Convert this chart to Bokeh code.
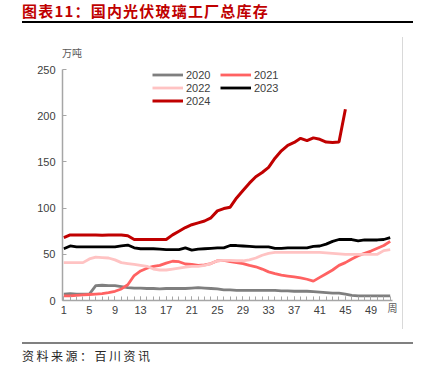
from bokeh.plotting import figure
from bokeh.layouts import column, row
from bokeh.models import Range1d, FixedTicker, Legend, LegendItem, Div, LinearAxis
from bokeh.embed import file_html
from bokeh.resources import INLINE

weeks = list(range(1, 53))
x_tick_vals = [1, 5, 9, 13, 17, 21, 25, 29, 33, 37, 41, 45, 49]
y_tick_vals = [0, 50, 100, 150, 200, 250]

s2020 = [7, 7.5, 7, 7, 7, 16, 16.5, 16, 16, 15, 14, 13.5, 13.5, 13, 13, 12.5, 13, 13, 13, 13,
         13.5, 14, 13.5, 13, 12.5, 11.5, 11.5, 11, 11, 11, 11, 11, 11, 11, 10.5, 10.5, 10, 10, 10, 9.5,
         9, 8.5, 8, 8, 7, 5.5, 5, 5, 5, 5, 5, 5]
s2021 = [5, 5, 5.5, 6, 6.5, 7, 7.5, 8.5, 10, 12.5, 17, 27, 32, 35, 37, 38, 40.5, 42.5, 42, 39.5,
         39, 38, 38.5, 40, 43, 43.5, 42, 41, 40, 38, 36.5, 34, 31, 29, 27.5, 26.5, 25.5, 24.5, 23, 21,
         25, 29, 33, 38, 41, 45, 48.5, 51, 53.5, 56.5, 59.5, 64]
s2022 = [41, 41, 41, 41, 45, 47, 46.5, 46, 44, 41, 40, 39, 38, 37, 34, 33, 33, 34, 35, 36,
         37, 37, 38, 40, 43, 43.5, 43.5, 43, 43, 44, 46, 49, 51, 52, 52, 52, 52, 52, 52, 52,
         52, 51.5, 51, 50.5, 50, 50, 50, 50, 50, 50, 54, 55]
s2023 = [56, 59, 58, 58, 58, 58, 58, 58, 58, 59, 60, 57, 56, 56, 56, 55.5, 55, 55, 55, 57,
         54.5, 55.5, 56, 56.5, 57, 57, 59.5, 59.5, 59, 58.5, 58, 58, 58, 56.5, 56.5, 57, 57, 57, 57, 58.5,
         59, 61, 64, 66, 66, 66, 64.5, 65.5, 65.5, 65.5, 66, 68]
s2024 = [68, 71, 71, 71, 71, 71, 70.5, 71, 71, 71, 70, 66, 66, 66, 66, 66, 66, 71, 75, 79,
         82, 84, 86, 89.5, 97, 99.5, 101, 111, 119, 127, 134, 138.5, 144, 154, 162, 168, 171, 175.5, 173, 176,
         174.5, 171.5, 171, 171.5, 207]

title_text = "图表11：国内光伏玻璃工厂总库存"
unit_text = "万吨"
week_text = "周"
source_text = "资料来源：百川资讯"

p = figure(width=402, height=280, output_backend="svg", toolbar_location=None,
           x_range=Range1d(0.8, 52.36), y_range=Range1d(0, 250),
           min_border_left=62, min_border_right=10, min_border_top=9, min_border_bottom=40)
p.outline_line_color = None
p.xgrid.grid_line_color = None
p.ygrid.grid_line_color = None

axis_col = "#a6a6a6"
for ax in (p.xaxis[0], p.yaxis[0]):
    ax.axis_line_color = axis_col
    ax.axis_line_width = 1.5
    ax.major_tick_line_color = axis_col
    ax.minor_tick_line_color = axis_col
    ax.major_label_text_font = "Liberation Sans"
    ax.major_label_text_font_size = "11px"
    ax.major_label_text_color = "#404040"
    ax.major_tick_out = 0
    ax.major_tick_in = 4

p.xaxis.ticker = FixedTicker(ticks=x_tick_vals, minor_ticks=weeks)
p.xaxis.minor_tick_in = 4
p.xaxis.minor_tick_out = 0
p.xaxis.major_label_standoff = 5
p.yaxis.ticker = FixedTicker(ticks=y_tick_vals)
p.yaxis.minor_tick_line_color = None
p.yaxis.major_label_standoff = 7

xa = p.xaxis[0]
xa.axis_label = week_text
xa.axis_label_text_font = "Noto Sans CJK SC"
xa.axis_label_text_font_size = "10px"
xa.axis_label_text_font_style = "normal"
xa.axis_label_text_color = "#595959"
xa.axis_label_standoff = -17
if "axis_label_align" in LinearAxis.properties():
    xa.axis_label_align = "end"

r20 = p.line(weeks, s2020, line_color="#7f7f7f", line_width=2.8)
r21 = p.line(weeks, s2021, line_color="#ff6262", line_width=2.8)
r22 = p.line(weeks, s2022, line_color="#ffc3c3", line_width=2.8)
r23 = p.line(weeks, s2023, line_color="#000000", line_width=2.8)
r24 = p.line(weeks[:len(s2024)], s2024, line_color="#c00000", line_width=3)

def mk_legend(items, loc):
    return Legend(items=items, location=loc, orientation="vertical",
                  glyph_width=31, glyph_height=13, label_height=13, label_standoff=3,
                  spacing=0, padding=0, margin=0,
                  border_line_alpha=0, background_fill_alpha=0,
                  label_text_font="Liberation Sans", label_text_font_size="11px",
                  label_text_color="#404040")

lg1 = mk_legend([LegendItem(label="2020", renderers=[r20]),
                 LegendItem(label="2022", renderers=[r22]),
                 LegendItem(label="2024", renderers=[r24])], (90, 193))
lg2 = mk_legend([LegendItem(label="2021", renderers=[r21]),
                 LegendItem(label="2023", renderers=[r23])], (158, 206))
p.add_layout(lg1)
p.add_layout(lg2)

top_html = (
    '<div style="position:relative;width:425px;height:60px;margin:0;padding:0;">'
    '<div style="position:absolute;left:22px;top:2px;white-space:nowrap;'
    "font-family:'Noto Sans CJK SC';font-weight:bold;font-size:15px;line-height:18px;"
    'letter-spacing:1.2px;color:#c00000;">' + title_text + '</div>'
    '<div style="position:absolute;left:22px;top:21px;width:391px;height:1.5px;background:#000;"></div>'
    '<div style="position:absolute;left:402px;top:37px;width:1px;height:23px;background:#d9d9d9;"></div>'
    '<div style="position:absolute;left:62px;top:47px;white-space:nowrap;'
    "font-family:'Noto Sans CJK SC';font-size:10px;line-height:12px;color:#595959;\">" + unit_text + '</div>'
    '</div>'
)
div_top = Div(text=top_html, width=425, height=60, margin=0)

side_html = ('<div style="position:relative;width:23px;height:280px;margin:0;padding:0;">'
             '<div style="position:absolute;left:0px;top:0px;width:1px;height:269px;background:#d9d9d9;"></div>'
             '</div>')
div_side = Div(text=side_html, width=23, height=280, margin=0)

bot_html = (
    '<div style="position:relative;width:425px;height:40px;margin:0;padding:0;">'
    '<div style="position:absolute;left:22px;top:2px;width:391px;height:2px;background:#808080;"></div>'
    '<div style="position:absolute;left:22px;top:9px;white-space:nowrap;'
    "font-family:'Noto Sans CJK SC';font-size:12px;line-height:14px;letter-spacing:2.5px;color:#262626;\">"
    + source_text + '</div>'
    '</div>'
)
div_bot = Div(text=bot_html, width=425, height=40, margin=0)

layout = column(div_top, row(p, div_side, spacing=0), div_bot, spacing=0)

open("out.html", "w").write(file_html(layout, INLINE))
